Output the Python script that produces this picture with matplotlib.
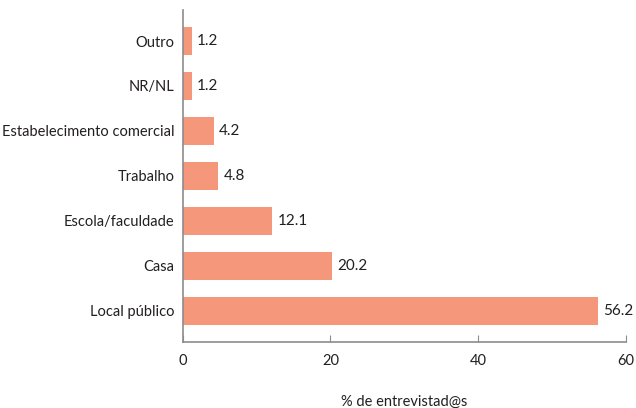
import matplotlib
matplotlib.use("Agg")
import matplotlib.pyplot as plt

# data (bottom to top)
categories = ['Local público', 'Casa', 'Escola/faculdade', 'Trabalho',
              'Estabelecimento comercial', 'NR/NL', 'Outro']
values = [56.2, 20.2, 12.1, 4.8, 4.2, 1.2, 1.2]
xticks = [0, 20, 40, 60]

plt.rcParams['font.family'] = ['Lato', 'DejaVu Sans']
text_color = '#231f20'
bar_color = '#f5977a'
axis_color = '#8c8c8c'

fig = plt.figure(figsize=(6.36, 4.08), dpi=100)
ax = fig.add_axes([0.2873, 0.1625, 0.6970, 0.8130])

pos = list(range(len(categories)))
ax.barh(pos, values, height=0.62, color=bar_color)

for p, v in zip(pos, values):
    ax.text(v + 0.7, p, f'{v:.1f}', va='center', ha='left',
            fontsize=11, color=text_color)

ax.set_xlim(0, 60)
ax.set_ylim(-0.69, 6.69)
ax.set_xticks(xticks)
ax.set_xticklabels([str(t) for t in xticks])
ax.set_yticks(pos)
ax.set_yticklabels(categories)

ax.tick_params(axis='x', direction='in', length=5, color=axis_color,
               labelsize=10.5, labelcolor=text_color, pad=9)
ax.tick_params(axis='y', length=0, labelsize=10.5, labelcolor=text_color, pad=6)

for side in ['top', 'right']:
    ax.spines[side].set_visible(False)
for side in ['left', 'bottom']:
    ax.spines[side].set_color(axis_color)
    ax.spines[side].set_linewidth(1.2)

ax.set_xlabel('% de entrevistad@s', fontsize=10.5, color=text_color, labelpad=19)

fig.savefig('out.png', dpi=100)
